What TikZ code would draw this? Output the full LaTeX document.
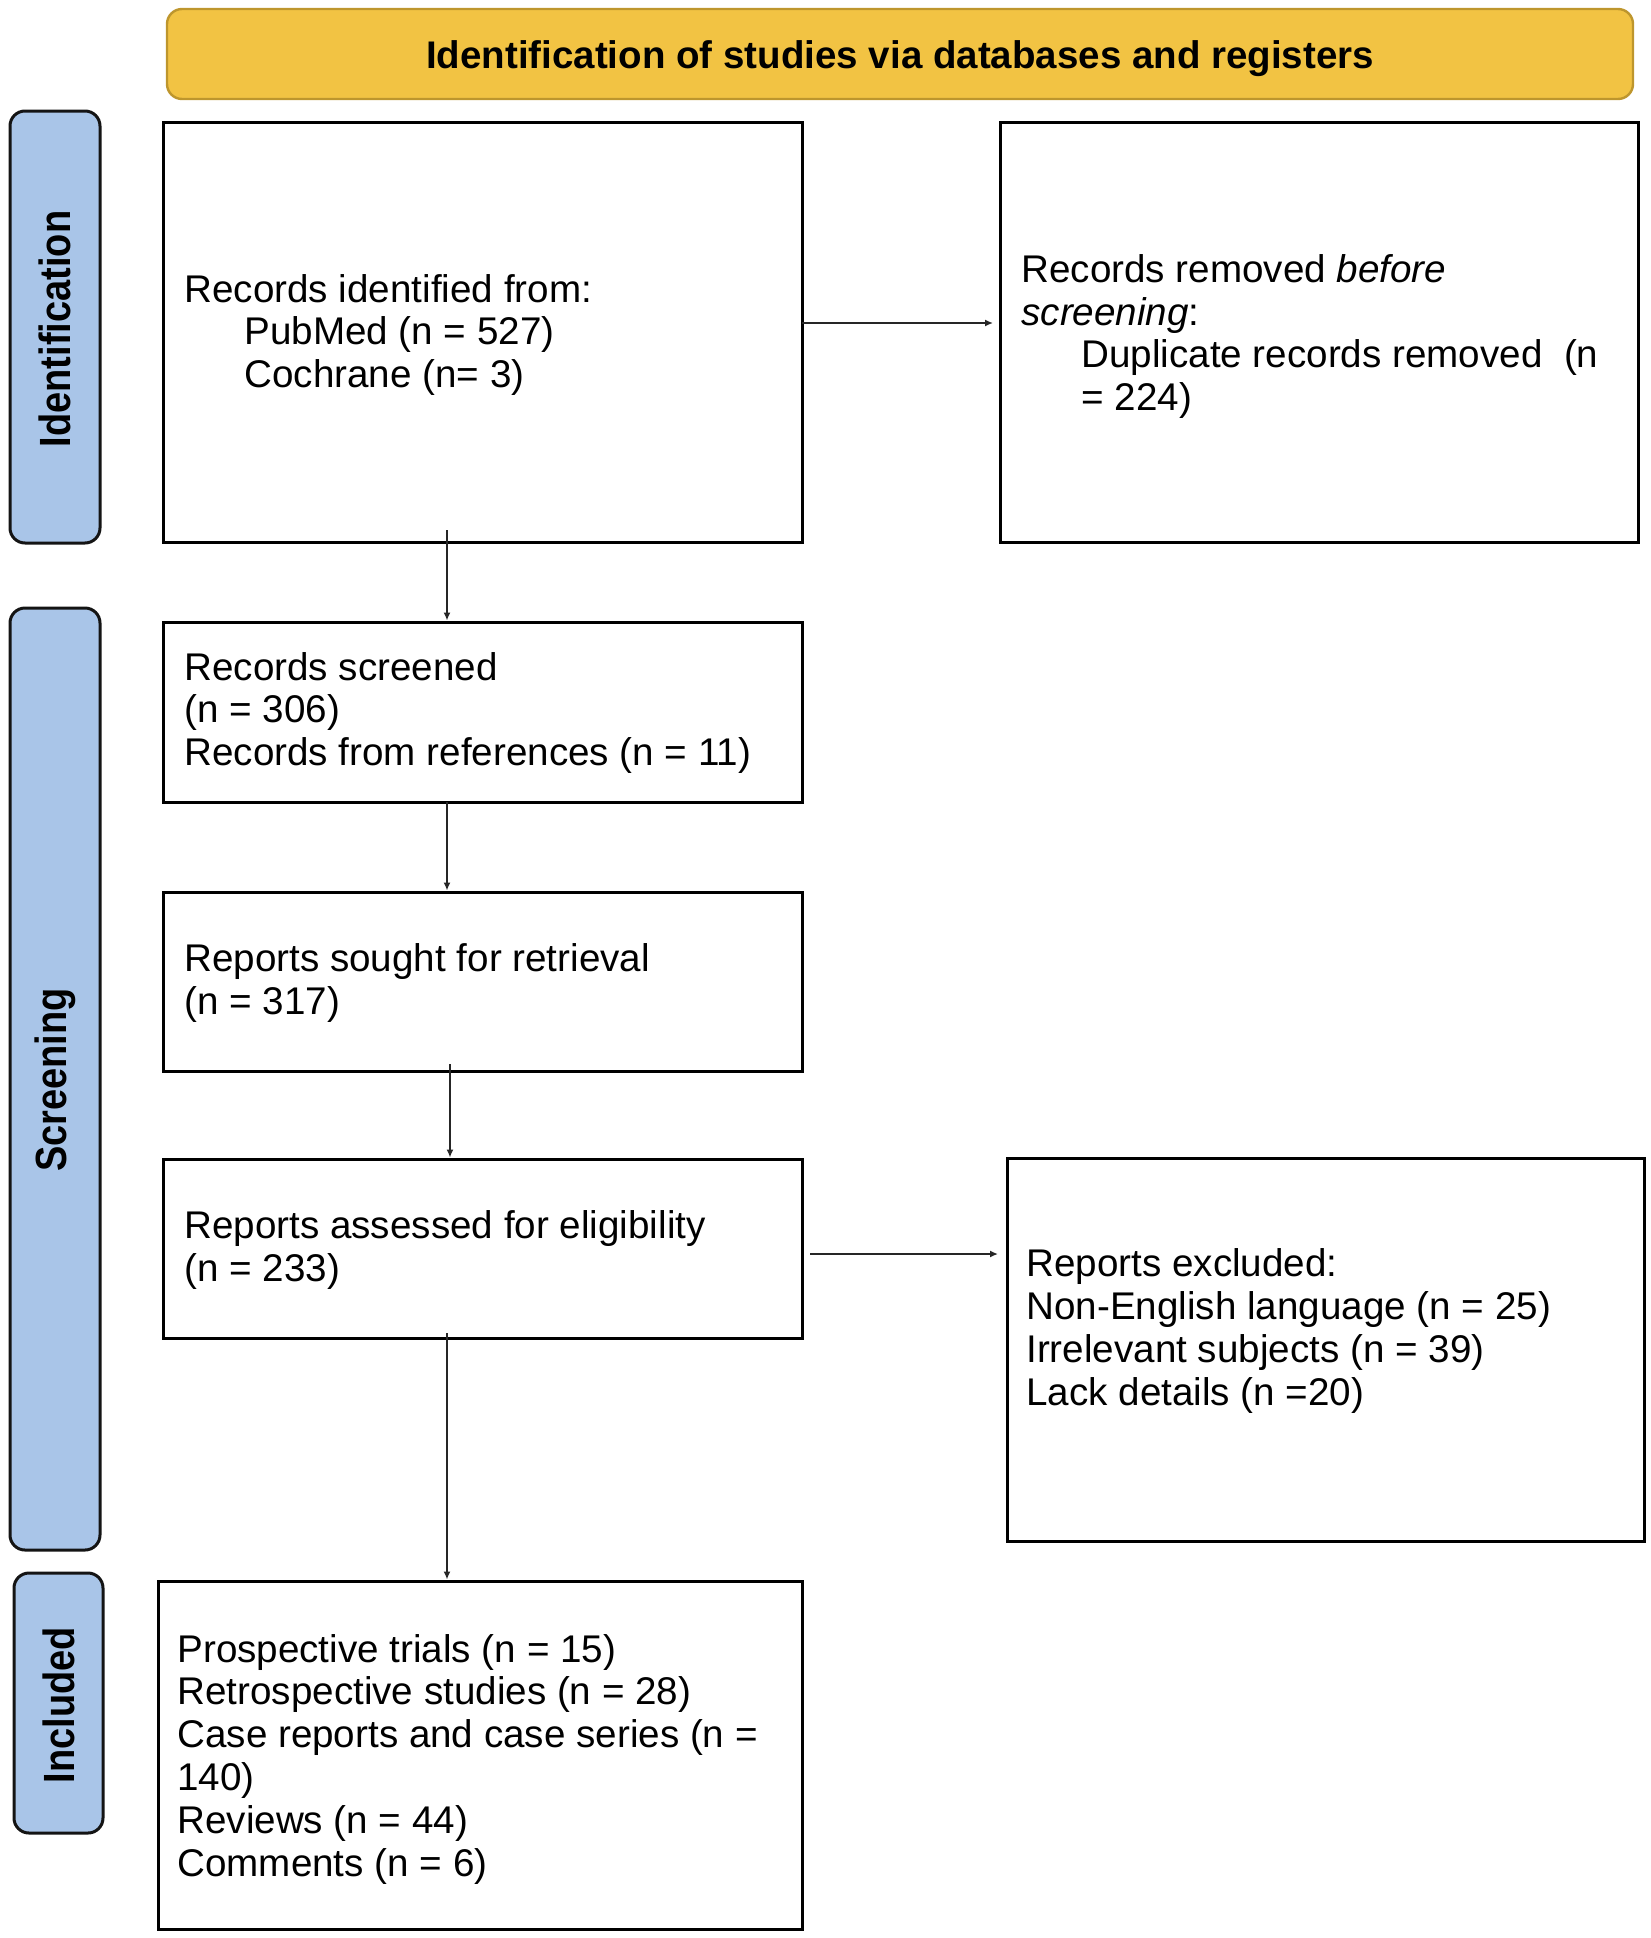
\documentclass[tikz,border=0pt]{standalone}
\usepackage{fontspec}
\setmainfont{Liberation Sans}
\usetikzlibrary{arrows.meta}
\definecolor{hdrfill}{RGB}{242,195,67}
\definecolor{hdrdraw}{RGB}{190,150,45}
\definecolor{sidefill}{RGB}{169,197,232}
\definecolor{sidedraw}{RGB}{20,20,20}
\tikzset{
  hdr/.style={draw=hdrdraw, fill=hdrfill, line width=1.2pt, rounded corners=7.5pt, minimum width=733pt, minimum height=45pt, inner sep=0pt},
  hdrtext/.style={inner sep=0pt, font=\fontsize{19.25}{21.5}\selectfont\bfseries},
  side/.style={draw=sidedraw, fill=sidefill, line width=1.5pt, rounded corners=7.5pt, minimum width=45pt, inner sep=0pt},
  sidelabel/.style={rotate=90, inner sep=0pt, font=\fontsize{19}{21.5}\selectfont\bfseries},
  flowbox/.style={draw=black, line width=1.5pt, minimum width=319.5pt, inner sep=0pt},
  boxtext/.style={anchor=west, align=left, inner sep=0pt, font=\fontsize{19.3}{21.4}\selectfont},
  arr/.style={-{Latex[length=4pt,width=3.5pt]}, line width=0.75pt, draw=black!85}
}
\newcommand{\ind}{\hspace*{30pt}}
\begin{document}
\begin{tikzpicture}[x=0.5pt,y=-0.5pt]
\useasboundingbox (0,0) rectangle (1650,1938);
% header
\node[hdr] (hdr) at (900,54) {};
\node[hdrtext] (hdrt) at (900,59) {Identification of studies via databases and registers};
% side labels
\node[side, minimum height=216pt] (sideI) at (55,327) {};
\node[sidelabel] (sideIt) at (55,329) {\scalebox{1}[1.15]{Identification}};
\node[side, minimum height=471pt] (sideS) at (55,1079) {};
\node[sidelabel] (sideSt) at (55,1080) {\scalebox{1}[1.15]{Screening}};
\node[side, minimum width=44.5pt, minimum height=130pt] (sideN) at (58.5,1703) {};
\node[sidelabel] (sideNt) at (58.5,1705) {\scalebox{1}[1.15]{Included}};
% boxes
\node[flowbox, minimum height=210pt] (box1) at (482.5,332) {};
\node[flowbox, minimum width=319pt, minimum height=210pt] (boxR) at (1319,332) {};
\node[flowbox, minimum height=90pt] (box2) at (482.5,712) {};
\node[flowbox, minimum height=89.5pt] (box3) at (482.5,981.5) {};
\node[flowbox, minimum height=89.5pt] (box4) at (482.5,1248.5) {};
\node[flowbox, minimum width=318.5pt, minimum height=191.5pt] (boxEx) at (1325.5,1349.5) {};
\node[flowbox, minimum width=322pt, minimum height=174pt] (boxInc) at (480,1755) {};
% texts
\node[boxtext] (t1) at (184,335) {Records identified from:\\\ind PubMed (n = 527)\\\ind Cochrane (n= 3)};
\node[boxtext] (tR) at (1021,336.5) {Records removed \textit{before}\\\textit{screening}:\\\ind Duplicate records removed\ \ (n\\\ind = 224)};
\node[boxtext] (t2) at (184,713) {Records screened\\(n = 306)\\Records from references (n = 11)};
\node[boxtext] (t3) at (184,983) {Reports sought for retrieval\\(n = 317)};
\node[boxtext] (t4) at (184,1250) {Reports assessed for eligibility\\(n = 233)};
\node[boxtext] (tEx) at (1026,1331) {Reports excluded:\\Non-English language (n = 25)\\Irrelevant subjects (n = 39)\\Lack details (n =20)};
\node[boxtext] (tInc) at (177,1759) {Prospective trials (n = 15)\\Retrospective studies (n = 28)\\Case reports and case series (n =\\140)\\Reviews (n = 44)\\Comments (n = 6)};
% connectors
\coordinate (a1) at (447,530);
\draw[arr] (a1) -- (a1 |- box2.north);
\coordinate (a2) at (447,802);
\draw[arr] (a2) -- (a2 |- box3.north);
\coordinate (a3) at (450,1064);
\draw[arr] (a3) -- (a3 |- box4.north);
\coordinate (a4) at (447,1333);
\draw[arr] (a4) -- (a4 |- boxInc.north);
\coordinate (b1) at (802,323);
\coordinate (b1e) at (993,323);
\draw[arr] (b1) -- (b1e);
\coordinate (b2) at (810,1254);
\coordinate (b2e) at (998,1254);
\draw[arr] (b2) -- (b2e);
\end{tikzpicture}
\end{document}
